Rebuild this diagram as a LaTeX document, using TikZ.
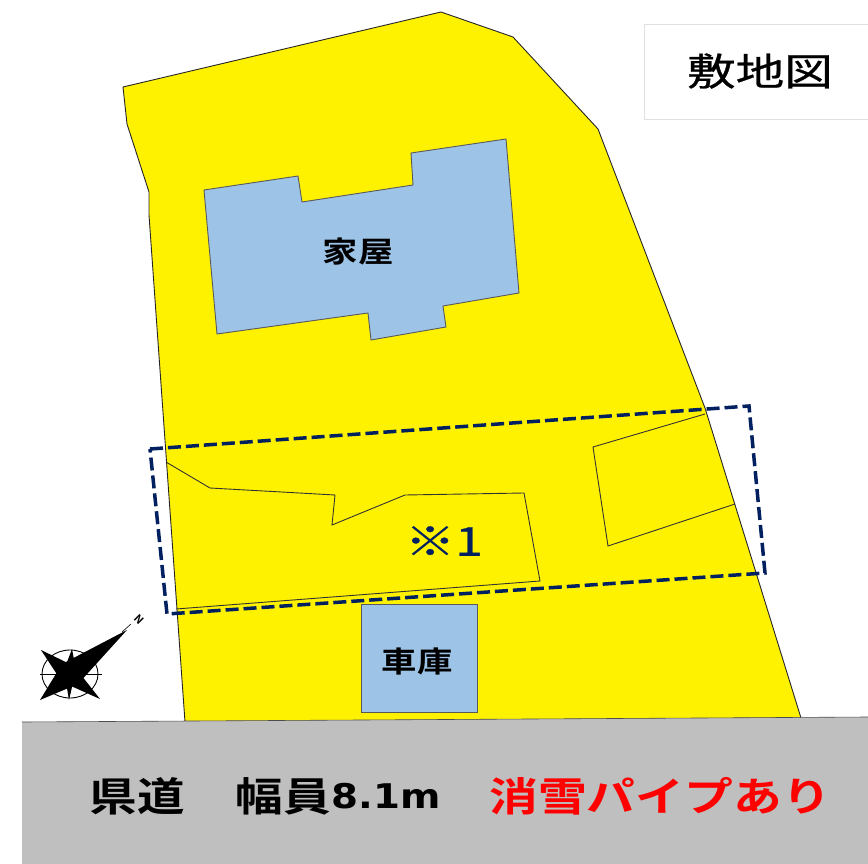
\documentclass[tikz,border=0pt]{standalone}
\usepackage{graphicx}
\usepackage{fontspec}
\setmainfont{Noto Sans CJK JP}[BoldFont={* Bold}]
\newfontfamily\latinb{DejaVu Sans}[BoldFont={* Bold}]
\newfontfamily\heavier{Noto Sans CJK JP}[FakeBold=0.6]
\definecolor{siteyellow}{HTML}{FFF200}
\definecolor{bldblue}{HTML}{9DC3E6}
\definecolor{roadgray}{HTML}{BFBFBF}
\definecolor{dashnavy}{HTML}{002060}
\tikzset{
  x=1pt,y=-1pt,
  sitepoly/.style={draw=black!85,line width=0.9pt,fill=siteyellow,line join=round},
  bldpoly/.style={draw=black!65,line width=0.9pt,fill=bldblue},
  innerpoly/.style={draw=black!80,line width=0.9pt},
  dashbox/.style={draw=dashnavy,line width=3.5pt,dash pattern=on 13pt off 5pt},
  lbl/.style={font=\bfseries\fontsize{29}{31}\selectfont,text=black,inner sep=0pt},
  roadlbl/.style={font=\bfseries\fontsize{40}{42}\selectfont,inner sep=0pt},
}
\begin{document}
\begin{tikzpicture}
\useasboundingbox (0,0) rectangle (868,864);
\fill[white] (0,0) rectangle (868,864);
\draw[draw=black!12,line width=0.7pt,fill=white] (644,24) rectangle (875,119);
\node[inner sep=0pt,font=\heavier\fontsize{38}{40}\selectfont] (title) at (760,71) {\scalebox{1.28}[1]{敷地図}};
\draw[sitepoly] (123,87) -- (441,12) -- (513,37) -- (598,129) -- (705,408) -- (801,718) -- (185,722) -- (149,215) -- (149,192) -- (127,124) -- cycle;
\fill[roadgray] (22,722) -- (185,721) -- (868,717) -- (868,864) -- (22,864) -- cycle;
\draw[draw=black!70,line width=0.6pt] (22,722) -- (868,717);
\draw[bldpoly] (204,190) -- (298,176) -- (302,202) -- (413,185) -- (411,153) -- (506,139) -- (519,293) -- (443,306) -- (446,327) -- (371,340) -- (368,313) -- (217,334) -- cycle;
\node[lbl] (house) at (358,252) {\scalebox{1.22}[1]{家屋}};
\draw[bldpoly] (361,604) rectangle (477,712);
\node[lbl] (garage) at (417,661) {\scalebox{1.22}[1]{車庫}};
\draw[innerpoly] (166,462) -- (210,488) -- (335,495) -- (332,525) -- (405,495) -- (524,493) -- (540,581) -- (176,609);
\draw[innerpoly] (705,414) -- (593,447) -- (608,546) -- (735,504);
\draw[dashbox] (150,449) -- (749,406) -- (765,573) -- (167,614) -- cycle;
\node[inner sep=0pt,font=\heavier\fontsize{40}{42}\selectfont,text=dashnavy] (note) at (444,541) {\scalebox{1.25}[1]{※1}};
% compass
\draw[black,line width=0.9pt] (70,674) ellipse (28 and 24);
\draw[black,line width=0.9pt] (40,674) -- (102,674);
\fill[black] (72,649) -- (76,670) -- (69,700) -- (64,670) -- cycle;
\fill[black] (41,650) -- (74,666) -- (100,699) -- (62,682) -- cycle;
\fill[black] (40,700) -- (62,664) -- (127,630) -- (78,684) -- cycle;
\fill[black] (70,674) circle (9);
\draw[black,line width=0.6pt] (122,632) -- (131,624);
\node[inner sep=0pt,font=\bfseries\fontsize{11}{11}\selectfont,rotate=-45] (north) at (139,620) {N};
\node[roadlbl] (roadA) at (137.5,796) {\scalebox{1.19}[1]{県道}};
\node[roadlbl] (roadB) at (283,796) {\scalebox{1.19}[1]{幅員}};
\node[inner sep=0pt,font=\latinb\bfseries\fontsize{34}{36}\selectfont] (roadC) at (386,796.5) {\scalebox{1.14}[1]{8.1m}};
\node[roadlbl,text=red] (pipe) at (660,796) {\scalebox{1.22}[1]{消雪パイプあり}};
\end{tikzpicture}
\end{document}
